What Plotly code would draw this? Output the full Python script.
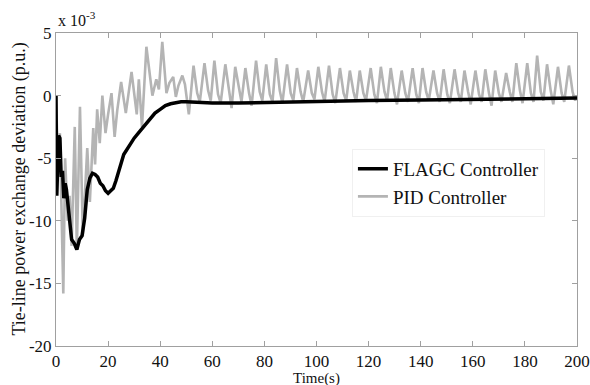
import plotly.graph_objects as go

# ---------------- data (values in units of 1e-3 p.u.) ----------------
flagc_t = [0, 0.3, 1.0, 1.5, 2.0, 2.5, 3.0, 3.5, 4.0, 5.0, 6.0, 7.0, 8.0, 9.0, 10.0,
           11.0, 12.0, 13.0, 14.0, 15.0, 16.0, 17.0, 18.0, 19.0, 20.0, 21.0, 22.0,
           23.0, 24.0, 25.0, 26.0, 28, 30, 32, 34, 36, 38, 40, 42, 44, 46, 48, 50,
           55, 60, 70, 80, 90, 100, 120, 140, 160, 180, 200]
flagc_y = [0, -8.0, -3.2, -3.4, -6.5, -6.0, -8.2, -7.0, -7.5, -9.5, -11.5, -11.8,
           -12.3, -11.5, -11.2, -9.8, -7.5, -6.6, -6.2, -6.3, -6.5, -7.0, -7.2, -7.6,
           -7.8, -7.6, -7.4, -6.8, -6.2, -5.4, -4.7, -4.0, -3.4, -2.9, -2.4, -1.9,
           -1.4, -1.1, -0.8, -0.65, -0.55, -0.5, -0.5, -0.55, -0.6, -0.6, -0.55,
           -0.5, -0.45, -0.4, -0.35, -0.3, -0.25, -0.2]

pid_early_t = [0, 0.8, 1.5, 2.2, 2.8, 3.5, 4.5, 5.2, 6.0, 7.2, 8.0, 9.2, 10.3, 12.0,
               13.0, 14.3, 15.0, 15.8, 16.8, 17.8, 19.0, 20.0, 21.3, 22.5, 23.5, 25.0,
               26.8, 29.0, 31.0, 31.8, 33.0, 34.7, 37.0, 38.5, 39.5, 40.8, 42.4, 43.5,
               45.0, 46.0, 47.0, 48.5, 49.5, 51.0]
pid_early_y = [0, -6.0, -3.0, -9.0, -15.8, -5.0, -10.0, -8.0, -12.0, -2.5, -12.3,
               -0.9, -11.2, -4.2, -8.5, -2.6, -5.5, -1.1, -3.8, 0.0, -3.0, -1.5, 0.2,
               -3.3, -1.2, 1.1, -1.4, 1.9, -1.5, 1.3, -2.5, 3.9, 0.0, 1.3, 0.5, 4.3,
               0.2, 1.0, 1.5, -0.1, 0.8, 1.6, 0.9, -1.5]

pid_peak_t = [52.8, 57.0, 60.8, 65.0, 68.8, 72.7, 76.8, 80.7, 84.5, 88.7, 92.5, 96.8,
              100.7, 104.8, 109.0, 112.8, 116.6, 120.8, 124.7, 128.5, 132.7, 136.9,
              140.7, 144.9, 148.8, 153.0, 156.8, 161.0, 164.8, 168.6, 172.8, 176.7,
              180.9, 184.7, 188.5, 192.7, 196.9]
pid_peak_y = [2.4, 2.6, 2.8, 2.5, 2.3, 2.2, 2.8, 2.5, 3.0, 2.5, 2.2, 2.0, 2.3, 2.4,
              2.2, 2.0, 2.0, 2.2, 2.3, 2.2, 2.0, 2.2, 2.2, 2.0, 2.1, 2.1, 2.0, 2.0,
              2.1, 2.0, 1.8, 2.6, 2.6, 3.2, 2.5, 2.3, 2.4]

pid_flat_t = [54.2, 58.4, 62.2, 66.4, 70.2, 74.1, 78.2, 82.1, 85.9, 90.1, 93.9, 98.2,
              102.1, 106.2, 110.4, 114.2, 118.0, 122.2, 126.1, 129.9, 134.1, 138.3,
              142.1, 146.3, 150.2, 154.4, 158.2, 162.4, 166.2, 170.0, 174.2, 178.1,
              182.3, 186.1, 189.9, 194.1, 198.3]
pid_flat_y = [0.2, 0.4, 0.1, 0.3, 0.5, 0.2, 0.3, 0.1, 0.4, 0.2, 0.3, 0.2, 0.3, 0.1,
              0.2, 0.3, 0.2, 0.1, 0.3, 0.2, 0.2, 0.1, 0.3, 0.2, 0.1, 0.2, 0.3, 0.1,
              0.2, 0.2, 0.3, 0.4, 0.2, 0.3, 0.4, 0.2, 0.3]

pid_dip_t = [55.2, 59.4, 63.2, 67.4, 71.2, 75.1, 79.2, 83.1, 86.9, 91.1, 94.9, 99.2,
             103.1, 107.2, 111.4, 115.2, 119.0, 123.2, 127.1, 130.9, 135.1, 139.3,
             143.1, 147.3, 151.2, 155.4, 159.2, 163.4, 167.2, 171.0, 175.2, 179.1,
             183.3, 187.1, 190.9, 195.1, 199.3]
pid_dip_y = [-0.5, -0.4, -0.6, -1.0, -0.5, -0.8, -0.4, -0.5, -0.6, -0.4, -0.5, -0.3,
             -0.5, -0.6, -0.4, -0.5, -0.4, -0.6, -0.4, -0.7, -0.5, -0.6, -0.4, -0.5,
             -0.6, -0.5, -0.7, -0.5, -0.8, -0.5, -0.5, -0.6, -0.5, -0.4, -0.7, -0.5,
             -0.4]

pid_end_t = [200]
pid_end_y = [0.0]

x_ticks = [0, 20, 40, 60, 80, 100, 120, 140, 160, 180, 200]
y_ticks = [-20, -15, -10, -5, 0, 5]

# ---------------- build ----------------
pts = list(zip(pid_early_t, pid_early_y)) + list(zip(pid_peak_t, pid_peak_y)) + \
      list(zip(pid_flat_t, pid_flat_y)) + list(zip(pid_dip_t, pid_dip_y)) + \
      list(zip(pid_end_t, pid_end_y))
pts.sort(key=lambda p: p[0])
pid_t = [p[0] for p in pts]
pid_y = [p[1] for p in pts]

FONT = "Liberation Serif"
W, H = 590, 385
ML, MR, MT, MB = 56, 13, 33, 39

fig = go.Figure()
fig.add_trace(go.Scatter(x=pid_t, y=pid_y, mode="lines", name="PID Controller",
                         line=dict(color="#b4b4b4", width=2.6)))
fig.add_trace(go.Scatter(x=flagc_t, y=flagc_y, mode="lines", name="FLAGC Controller",
                         line=dict(color="#000000", width=3.5)))

axis_common = dict(showgrid=False, zeroline=False, showline=True, linecolor="#a0a0a0",
                   linewidth=1, mirror="ticks", ticks="inside", ticklen=5,
                   tickcolor="#a0a0a0", automargin=False, ticklabeloverflow="allow",
                   tickfont=dict(family=FONT, size=17, color="#111"))

fig.update_layout(
    width=W, height=H,
    margin=dict(l=ML, r=MR, t=MT, b=MB, autoexpand=False),
    paper_bgcolor="white", plot_bgcolor="white",
    font=dict(family=FONT, color="#111"),
    showlegend=True,
    legend=dict(x=0.568, y=0.63, xanchor="left", yanchor="top",
                traceorder="reversed",
                bgcolor="rgba(255,255,255,1)", bordercolor="#f0f0f0", borderwidth=1,
                font=dict(family=FONT, size=19, color="#111")),
    xaxis=dict(range=[0, 200], tickvals=x_ticks, ticktext=[str(v) for v in x_ticks],
               **axis_common),
    yaxis=dict(range=[-20, 5], tickvals=y_ticks, ticktext=[str(v) for v in y_ticks],
               **axis_common),
)
# axis titles as annotations (exact placement)
fig.add_annotation(xref="paper", yref="paper", x=0.5, y=0, yshift=-22,
                   xanchor="center", yanchor="top", showarrow=False,
                   text="Time(s)", font=dict(family=FONT, size=15, color="#111"))
fig.add_annotation(xref="paper", yref="paper", x=0, y=0.5, xshift=-37,
                   xanchor="center", yanchor="middle", showarrow=False, textangle=-90,
                   text="Tie-line power exchange deviation (p.u.)",
                   font=dict(family=FONT, size=18, color="#111"))
fig.add_annotation(xref="paper", yref="paper", x=0.0, y=1.0, xanchor="left",
                   yanchor="bottom", showarrow=False, yshift=2,
                   text="x 10<sup>-3</sup>", font=dict(family=FONT, size=16, color="#111"))

# remove the default 8px page margin so the 590x385 figure fills the window exactly
fig.write_html("out.html",
               config={"displayModeBar": False},
               post_script="document.body.style.margin='0px';"
                           "document.body.style.overflow='hidden';")
